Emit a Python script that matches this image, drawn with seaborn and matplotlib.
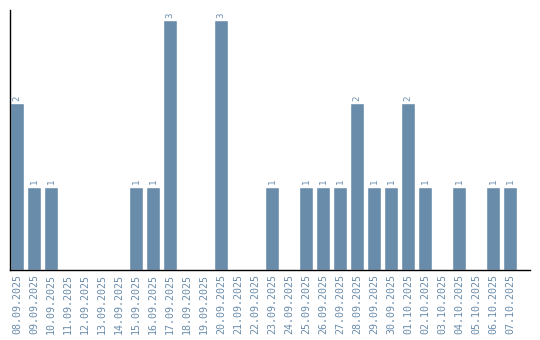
import matplotlib
matplotlib.use("Agg")
import matplotlib.pyplot as plt
import seaborn as sns
import pandas as pd

dates = ["08.09.2025", "09.09.2025", "10.09.2025", "11.09.2025", "12.09.2025",
         "13.09.2025", "14.09.2025", "15.09.2025", "16.09.2025", "17.09.2025",
         "18.09.2025", "19.09.2025", "20.09.2025", "21.09.2025", "22.09.2025",
         "23.09.2025", "24.09.2025", "25.09.2025", "26.09.2025", "27.09.2025",
         "28.09.2025", "29.09.2025", "30.09.2025", "01.10.2025", "02.10.2025",
         "03.10.2025", "04.10.2025", "05.10.2025", "06.10.2025", "07.10.2025"]
counts = [2, 1, 1, 0, 0, 0, 0, 1, 1, 3,
          0, 0, 3, 0, 0, 1, 0, 1, 1, 1,
          2, 1, 1, 2, 1, 0, 1, 0, 1, 1]

bar_color = "#6a8cab"
text_color = "#6a8cab"

sns.set_style("white")
plt.rcParams['font.family'] = ['DejaVu Sans Mono', 'DejaVu Sans']

df = pd.DataFrame({"date": dates, "count": counts})

fig = plt.figure(figsize=(5.4, 3.4), dpi=100)
ax = fig.add_axes([10/540, 1 - 270/340, 520/540, 260/340])

sns.barplot(data=df, x="date", y="count", color=bar_color, width=0.82,
            saturation=1, ax=ax, order=dates)

for i, v in enumerate(counts):
    if v > 0:
        ax.text(i, v + 0.03, str(v), rotation=90, ha="center", va="bottom",
                fontsize=6.5, color=text_color)

ax.set_xlim(-0.41, 30.18)
ax.set_ylim(0, 3.12)
ax.set_xlabel("")
ax.set_ylabel("")
ax.set_yticks([])
ax.tick_params(axis="x", length=0, pad=3, labelsize=7.2, labelcolor=text_color)
for lbl in ax.get_xticklabels():
    lbl.set_rotation(90)
for s in ["top", "right"]:
    ax.spines[s].set_visible(False)
for s in ["left", "bottom"]:
    ax.spines[s].set_color("black")
    ax.spines[s].set_linewidth(1)

fig.savefig("out.png", dpi=100)
